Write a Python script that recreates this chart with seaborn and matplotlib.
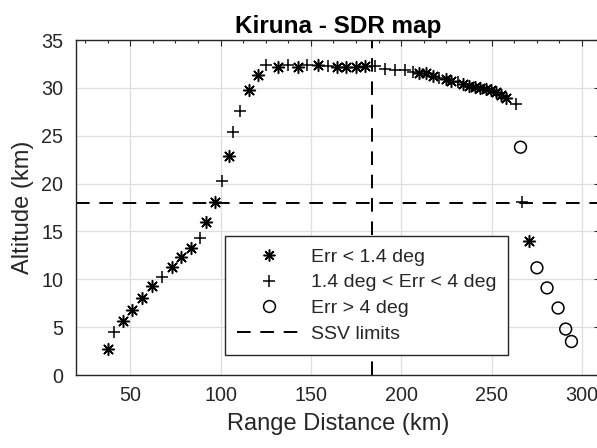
import matplotlib
matplotlib.use("Agg")
import matplotlib.pyplot as plt
from matplotlib.lines import Line2D
from matplotlib.ticker import MultipleLocator
import seaborn as sns
import pandas as pd

# ---- data ----
x_good = [37.6, 45.9, 51.1, 56.6, 62.2, 73.3, 78.2, 83.8, 92.1, 96.7, 104.6, 116.0, 120.7,
          131.7, 142.8, 153.9, 164.4, 169.6, 175.1, 179.7, 209.8, 213.9, 217.5, 225.0,
          227.7, 234.2, 237.5, 240.6, 243.4, 246.7, 249.9, 252.7, 255.4, 258.2, 270.7]
y_good = [2.74, 5.63, 6.8, 8.07, 9.26, 11.3, 12.3, 13.3, 16.0, 18.1, 22.9, 29.8, 31.3,
          32.2, 32.2, 32.4, 32.2, 32.2, 32.2, 32.3, 31.6, 31.5, 31.25, 30.9,
          30.7, 30.4, 30.2, 30.1, 30.0, 29.9, 29.8, 29.6, 29.3, 28.95, 14.0]

x_mid = [41.3, 67.7, 88.9, 100.9, 106.8, 110.5, 124.9, 137.3, 147.8, 159.4, 185.5,
         190.8, 196.3, 201.9, 206.5, 220.9, 231.4, 263.4, 267.1]
y_mid = [4.48, 10.2, 14.35, 20.3, 25.4, 27.6, 32.35, 32.35, 32.35, 32.25, 32.3,
         32.0, 31.9, 31.85, 31.7, 31.05, 30.6, 28.3, 18.1]

x_bad = [266.0, 275.1, 280.7, 286.8, 291.0, 294.2]
y_bad = [23.8, 11.2, 9.1, 7.0, 4.8, 3.5]

ssv_range = 184.0
ssv_alt = 18.0

labels = ["Err < 1.4 deg", "1.4 deg < Err < 4 deg", "Err > 4 deg", "SSV limits"]
title = "Kiruna - SDR map"
xlabel = "Range Distance (km)"
ylabel = "Altitude (km)"

# ---- style ----
sns.set_style("white")
plt.rcParams["font.family"] = ["Liberation Sans", "DejaVu Sans"]
txt = "#262626"

fig = plt.figure(figsize=(5.97, 4.48), dpi=100)
ax = fig.add_axes([76 / 597, 73 / 448, 524 / 597, 335 / 448])

star = (8, 2, 0)
ms = 8.5
lw_m = 1.1
df_good = pd.DataFrame({"x": x_good, "y": y_good})
df_mid = pd.DataFrame({"x": x_mid, "y": y_mid})
df_bad = pd.DataFrame({"x": x_bad, "y": y_bad})

sns.scatterplot(data=df_good, x="x", y="y", marker=star, s=ms**2, color="black",
                linewidth=lw_m, ax=ax, zorder=3)
sns.scatterplot(data=df_mid, x="x", y="y", marker="+", s=ms**2 * 1.15, color="black",
                linewidth=lw_m, ax=ax, zorder=3)
sns.scatterplot(data=df_bad, x="x", y="y", marker="o", s=ms**2, color="black",
                facecolor="none", edgecolor="black", linewidth=lw_m, ax=ax, zorder=3)

dash = (7.0, 5.0)
ax.axhline(ssv_alt, color="black", lw=1.4, dashes=dash, zorder=2)
ax.axvline(ssv_range, color="black", lw=1.4, dashes=dash, zorder=2)

ax.set_xlim(20, 310)
ax.set_ylim(0, 35)
ax.xaxis.set_major_locator(MultipleLocator(50))
ax.xaxis.set_minor_locator(MultipleLocator(12.5))
ax.yaxis.set_major_locator(MultipleLocator(5))
ax.yaxis.set_minor_locator(MultipleLocator(2.5))
ax.set_xticks([50, 100, 150, 200, 250, 300])

ax.grid(True, which="major", color="#dedede", lw=0.9)
ax.set_axisbelow(True)
for s in ax.spines.values():
    s.set_color(txt)
    s.set_linewidth(1.0)

ax.tick_params(which="both", direction="in", top=True, right=True, colors=txt,
               labelsize=14.2)
ax.tick_params(which="major", length=4, width=0.8)
ax.tick_params(which="minor", length=2.5, width=0.8)
ax.tick_params(axis="x", pad=8)
ax.tick_params(axis="y", pad=9)

ax.set_xlabel(xlabel, fontsize=17, color=txt, labelpad=6)
ax.set_ylabel(ylabel, fontsize=17, color=txt, labelpad=5)
ax.set_title(title, fontsize=17.5, fontweight="bold", color="black", pad=5)

handles = [
    Line2D([], [], ls="none", marker=star, ms=ms, color="black", mew=lw_m),
    Line2D([], [], ls="none", marker="+", ms=ms * 1.07, color="black", mew=lw_m),
    Line2D([], [], ls="none", marker="o", ms=ms, mfc="none", mec="black", mew=lw_m),
    Line2D([], [], color="black", lw=1.4, dashes=dash),
]
leg = ax.legend(handles, labels, loc="upper left", bbox_to_anchor=(225 / 597, 1 - 236 / 448),
                bbox_transform=fig.transFigure, borderaxespad=0, fontsize=14,
                frameon=True, fancybox=False, framealpha=1, edgecolor=txt,
                handlelength=3.3, handletextpad=0.5, labelspacing=0.42,
                borderpad=0.62, labelcolor=txt)
leg.get_frame().set_linewidth(1.0)

fig.savefig("out.png", dpi=100)
